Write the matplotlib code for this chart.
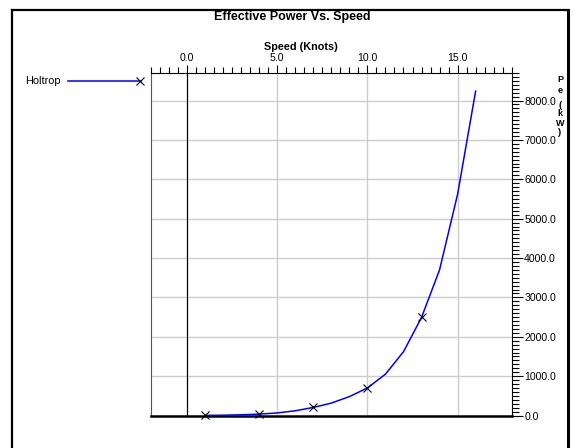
import matplotlib
matplotlib.use('Agg')
import matplotlib.pyplot as plt
from matplotlib.lines import Line2D
from matplotlib.ticker import MultipleLocator

# ---- data ----
speeds = [1, 2, 3, 4, 5, 6, 7, 8, 9, 10, 11, 12, 13, 14, 15, 16]
power = [3, 8, 18, 35, 65, 120, 205, 315, 480, 700, 1050, 1620, 2490, 3700, 5620, 8240]
marker_speeds = [1, 4, 7, 10, 13]
series_name = "Holtrop"
x_ticks = [0, 5, 10, 15]
y_ticks = [0, 1000, 2000, 3000, 4000, 5000, 6000, 7000, 8000]
title = "Effective Power Vs. Speed"
x_label = "Speed (Knots)"
y_label_chars = ["P", "e", "(", "k", "W", ")"]

plt.rcParams['font.family'] = ['Liberation Sans', 'DejaVu Sans']

W, H = 573, 448
fig = plt.figure(figsize=(W / 100, H / 100), dpi=100)


def fx(px):
    return px / W


def fy(py):
    return 1 - py / H


ax = fig.add_axes([fx(151), fy(415.5), fx(511.7) - fx(151), fy(73) - fy(415.5)])
ax.set_xlim(-2, 18)
ax.set_ylim(0, 8700)

ax.xaxis.tick_top()
ax.yaxis.tick_right()
ax.set_xticks(x_ticks)
ax.set_xticklabels([f"{v:.1f}" for v in x_ticks])
ax.xaxis.set_minor_locator(MultipleLocator(0.5))
ax.set_yticks(y_ticks)
ax.set_yticklabels([f"{v:.1f}" for v in y_ticks])
ax.yaxis.set_minor_locator(MultipleLocator(100))

ax.tick_params(axis='x', which='major', direction='out', length=6, width=0.8,
               pad=1.5, labelsize=7.6, colors='black')
ax.tick_params(axis='x', which='minor', direction='out', length=4, width=0.8)
ax.tick_params(axis='y', which='major', direction='out', length=8, width=0.8,
               pad=1, labelsize=7.6)
ax.tick_params(axis='y', which='minor', direction='out', length=5, width=0.8)

# grid
for v in x_ticks[1:]:
    ax.axvline(v, color='#cccccc', lw=1.0, zorder=0)
for v in y_ticks[1:]:
    ax.axhline(v, color='#cccccc', lw=1.0, zorder=0)
ax.axvline(0, color='black', lw=0.9, zorder=1)

for s in ['top', 'right']:
    ax.spines[s].set_color('black')
    ax.spines[s].set_linewidth(0.8)
ax.spines['left'].set_color('#555555')
ax.spines['left'].set_linewidth(0.8)
ax.spines['bottom'].set_color('black')
ax.spines['bottom'].set_linewidth(1.8)

# data
ax.plot(speeds, power, color='#0000ff', lw=1.1, zorder=3, clip_on=False)
mp = [power[speeds.index(s)] for s in marker_speeds]
ax.plot(marker_speeds, mp, ls='none', marker='x', color='black', ms=6,
        mew=0.8, zorder=4, clip_on=False)

# legend (outside, left)
fig.text(fx(25), fy(81), series_name, fontsize=7.8, ha='left', va='center')
fig.add_artist(Line2D([fx(68), fx(140)], [fy(81), fy(81)], color='#0000ff', lw=1.1,
                      marker='x', markevery=[1], ms=6, mec='black', mew=0.8))

# titles
fig.text(fx(292), fy(17), title, fontsize=9, fontweight='bold', ha='center', va='center')
fig.text(fx(301), fy(47), x_label, fontsize=7.8, fontweight='bold', ha='center', va='center')
ylab_y = [80, 90, 105, 114, 123, 132]
for ch, yy in zip(y_label_chars, ylab_y):
    fig.text(fx(560), fy(yy), ch, fontsize=6.5, fontweight='bold', ha='center', va='center')

# outer frame
fig.add_artist(Line2D([fx(12), fx(12)], [fy(448), fy(10)], color='black', lw=1.6))
fig.add_artist(Line2D([fx(12), fx(568)], [fy(10), fy(10)], color='black', lw=1.6))
fig.add_artist(Line2D([fx(568), fx(568)], [fy(10), fy(448)], color='black', lw=2.2))

fig.savefig('out.png', dpi=100)
